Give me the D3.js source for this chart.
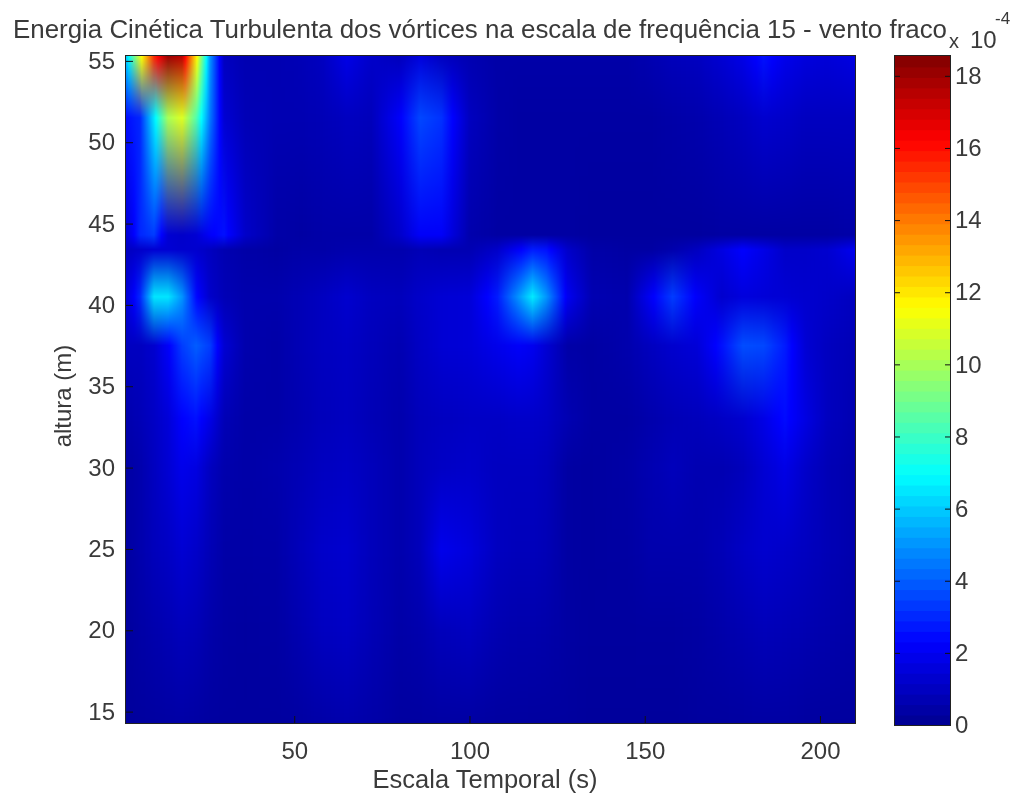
<!DOCTYPE html>
<html lang="pt">
  <head>
    <meta charset="UTF-8" />
    <title>Energia Cinética Turbulenta</title>
    <style>
      html, body { margin: 0; padding: 0; background: #fff; }
      #chart { position: relative; width: 1015px; height: 799px; overflow: hidden; }
      #chart canvas, #chart svg { position: absolute; left: 0; top: 0; }
      text { font-family: "Liberation Sans", Arial, sans-serif; fill: #3a3a3a; }
    </style>
    <script src="https://d3js.org/d3.v7.min.js"></script>
  </head>
  <body>
    <div id="chart"></div>
    <script>
      // escala temporal (s) of each column of the grid
      const tempos = [2, 6, 10, 14, 18, 22, 26, 30, 36, 45, 52, 58, 65, 72, 80, 86, 92, 100, 108, 114, 118, 122, 128, 135, 145, 152, 158, 165, 172, 178, 184, 190, 196, 202, 210];

      // energy in units of 1e-4, one list per height
      const e553 = [6, 11, 15.5, 18, 17.5, 12, 5, 1, 0.7, 0.7, 0.8, 1, 1.8, 1.2, 0.9, 1.6, 1, 0.7, 0.5, 0.5, 0.5, 0.5, 0.5, 0.5, 0.5, 0.7, 0.9, 1, 1.4, 1.8, 2.6, 1.9, 1.6, 1.5, 1.7];
      const e515 = [2.5, 3, 6.5, 10, 11, 8.5, 4.5, 1.4, 0.8, 0.7, 0.7, 0.8, 1, 0.9, 2.2, 3.6, 3.2, 1, 0.5, 0.4, 0.4, 0.4, 0.4, 0.4, 0.4, 0.4, 0.5, 0.6, 0.8, 1, 1.3, 1.2, 1, 1, 1];
      const e443 = [1.4, 3, 3.4, 1.4, 1.2, 1.4, 2.2, 2.6, 1.2, 0.5, 0.4, 0.5, 0.5, 0.5, 1.2, 2.2, 2.2, 0.6, 0.4, 0.4, 0.4, 0.4, 0.4, 0.3, 0.3, 0.3, 0.3, 0.3, 0.4, 0.4, 0.4, 0.4, 0.4, 0.4, 0.5];
      const e434 = [1, 1.2, 1.4, 1.4, 1.3, 1.3, 1, 0.7, 0.5, 0.4, 0.5, 0.5, 0.6, 0.6, 0.6, 0.8, 0.7, 0.7, 1.2, 2.2, 2.8, 2.6, 1.2, 0.5, 0.4, 0.4, 0.6, 1, 1.7, 2.3, 1.8, 1.2, 1.2, 1.3, 2];
      const e405 = [1.4, 3, 6.5, 6.5, 5, 2.5, 1.2, 0.8, 0.6, 0.6, 0.8, 1, 1.3, 1, 0.9, 1.2, 1.4, 1.5, 2.8, 5, 6.6, 5, 2, 0.7, 0.6, 2.2, 3.4, 2.2, 1.3, 1.6, 1.5, 1.4, 1.3, 1.2, 1];
      const e375 = [1, 1, 1.3, 2.2, 3.4, 4, 3.4, 1.4, 0.6, 0.5, 0.8, 1, 1.1, 0.9, 0.7, 1.1, 1.4, 1.5, 1.9, 2.2, 2, 1.4, 0.5, 0.4, 0.6, 1, 1.3, 1.5, 2.6, 3.7, 3.6, 2.8, 1.4, 1, 0.8];
      const e330 = [0.6, 0.8, 1.1, 1.5, 2.3, 2.6, 1.8, 0.8, 0.5, 0.5, 0.7, 0.9, 1, 0.8, 0.6, 0.9, 1, 1.1, 1.1, 1.2, 1.2, 1.1, 0.7, 0.4, 0.4, 0.6, 0.8, 0.9, 1.1, 1.3, 1.8, 2.5, 1.7, 1, 0.7];
      const e300 = [0.4, 0.6, 1, 1.4, 1.9, 1.7, 1, 0.6, 0.5, 0.6, 0.8, 1, 1.1, 0.9, 0.6, 0.9, 1.1, 1.2, 1, 1, 1, 0.9, 0.4, 0.35, 0.45, 0.7, 0.9, 0.7, 0.7, 0.9, 1.4, 1.8, 1.2, 0.8, 0.6];
      const e250 = [0.35, 0.6, 0.9, 1.1, 1.4, 1.2, 0.8, 0.5, 0.45, 0.5, 0.9, 1.2, 1.3, 0.9, 0.6, 0.9, 1.9, 1.6, 1, 0.9, 0.9, 0.8, 0.4, 0.35, 0.4, 0.6, 0.6, 0.6, 0.8, 1.1, 1.3, 1.2, 1, 0.8, 0.6];
      const e200 = [0.3, 0.45, 0.6, 0.75, 0.9, 0.8, 0.55, 0.4, 0.35, 0.4, 0.7, 1, 1.1, 0.8, 0.5, 0.6, 0.9, 1, 0.7, 0.6, 0.6, 0.55, 0.4, 0.3, 0.3, 0.35, 0.35, 0.4, 0.55, 0.7, 0.85, 0.8, 0.7, 0.6, 0.5];
      const e143 = [0.25, 0.3, 0.35, 0.4, 0.45, 0.4, 0.35, 0.3, 0.3, 0.3, 0.4, 0.5, 0.6, 0.5, 0.35, 0.35, 0.4, 0.4, 0.35, 0.35, 0.3, 0.3, 0.3, 0.25, 0.25, 0.25, 0.25, 0.3, 0.3, 0.35, 0.4, 0.4, 0.35, 0.3, 0.3];

      const alturas = [14.3, 20, 25, 30, 33, 37.5, 40.5, 43.4, 44.3, 51.5, 55.3];
      const energia = [e143, e200, e250, e300, e330, e375, e405, e434, e443, e515, e553];

      const xTicks = [50, 100, 150, 200];
      const yTicks = [15, 20, 25, 30, 35, 40, 45, 50, 55];
      const cTicks = [0, 2, 4, 6, 8, 10, 12, 14, 16, 18];
      const cMax = 18.55;

      const titulo = "Energia Cinética Turbulenta dos vórtices na escala de frequência 15 - vento fraco";

      const plot = { left: 126, right: 855, top: 56, bottom: 723 };
      const bar = { left: 895, right: 950, top: 56, bottom: 725 };

      const x = d3.scaleLinear().domain([2, 210]).range([plot.left, plot.right]);
      const y = d3.scaleLinear().domain([14.3, 55.3]).range([plot.bottom, plot.top]);
      const cY = d3.scaleLinear().domain([0, cMax]).range([bar.bottom, bar.top]);

      // matlab jet
      const jet = d3
        .scaleLinear()
        .domain([0, 0.125, 0.375, 0.625, 0.875, 1])
        .range(["#000090", "#0000ff", "#00ffff", "#ffff00", "#ff0000", "#800000"])
        .clamp(true);

      const lut = d3.range(1024).map((i) => d3.rgb(jet(i / 1023)));
      const lutAt = (v) => lut[Math.round(Math.min(1, v / cMax) * 1023)];

      const chart = d3.select("#chart");

      // heatmap: along time the value goes through the colormap, between
      // heights the colours themselves are mixed, as in the original picture
      const canvas = chart.append("canvas").attr("width", 1015).attr("height", 799);
      const ctx = canvas.node().getContext("2d");
      const w = plot.right - plot.left;
      const h = plot.bottom - plot.top;
      const img = ctx.createImageData(w, h);

      const colRows = energia.map((row) => {
        const vals = d3.scaleLinear().domain(tempos).range(row);
        return d3.range(w).map((i) => lutAt(vals(x.invert(plot.left + i + 0.5))));
      });

      for (let j = 0; j < h; j++) {
        const alt = y.invert(plot.top + j + 0.5);
        const k = Math.max(1, Math.min(alturas.length - 1, d3.bisectLeft(alturas, alt)));
        const f = (alt - alturas[k - 1]) / (alturas[k] - alturas[k - 1]);
        for (let i = 0; i < w; i++) {
          const a = colRows[k - 1][i];
          const b = colRows[k][i];
          const p = (j * w + i) * 4;
          img.data[p] = a.r + (b.r - a.r) * f;
          img.data[p + 1] = a.g + (b.g - a.g) * f;
          img.data[p + 2] = a.b + (b.b - a.b) * f;
          img.data[p + 3] = 255;
        }
      }
      ctx.putImageData(img, plot.left, plot.top);

      // colorbar, 64 levels
      const barW = bar.right - bar.left;
      const levels = d3.range(64);
      levels.forEach((l) => {
        const v0 = (l / 64) * cMax;
        const v1 = ((l + 1) / 64) * cMax;
        ctx.fillStyle = jet((l + 0.5) / 64);
        ctx.fillRect(bar.left, cY(v1), barW, cY(v0) - cY(v1) + 1);
      });

      const svg = chart.append("svg").attr("width", 1015).attr("height", 799);

      function styleAxis(g, size) {
        g.select(".domain").remove();
        g.selectAll("line").attr("stroke", "#111").attr("stroke-width", 1);
        g.selectAll("text").attr("font-size", size).style("fill", "#3a3a3a");
      }

      svg
        .append("g")
        .attr("transform", `translate(0,${plot.bottom})`)
        .call(d3.axisBottom(x).tickValues(xTicks).tickSize(-7).tickPadding(19))
        .call(styleAxis, 24);

      svg
        .append("g")
        .attr("transform", `translate(${plot.left},0)`)
        .call(d3.axisLeft(y).tickValues(yTicks).tickSize(-7).tickPadding(11))
        .call(styleAxis, 24);

      svg
        .append("g")
        .attr("transform", `translate(${bar.right},0)`)
        .call(d3.axisRight(cY).tickValues(cTicks).tickSize(-5).tickPadding(5))
        .call(styleAxis, 24);

      svg
        .append("g")
        .attr("transform", `translate(${bar.left},0)`)
        .call(d3.axisLeft(cY).tickValues(cTicks).tickSize(-5).tickFormat(""))
        .call(styleAxis, 24);

      svg
        .append("rect")
        .attr("x", plot.left - 0.5)
        .attr("y", plot.top - 0.5)
        .attr("width", w + 1)
        .attr("height", h + 1)
        .attr("fill", "none")
        .attr("stroke", "#222");

      svg
        .append("rect")
        .attr("x", bar.left - 0.5)
        .attr("y", bar.top - 0.5)
        .attr("width", barW + 1)
        .attr("height", bar.bottom - bar.top + 1)
        .attr("fill", "none")
        .attr("stroke", "#222");

      svg
        .append("text")
        .attr("x", 480)
        .attr("y", 38)
        .attr("text-anchor", "middle")
        .attr("font-size", 25.9)
        .text(titulo);

      svg
        .append("text")
        .attr("x", 485)
        .attr("y", 788)
        .attr("text-anchor", "middle")
        .attr("font-size", 25.5)
        .text("Escala Temporal (s)");

      svg
        .append("text")
        .attr("transform", "translate(71,396) rotate(-90)")
        .attr("text-anchor", "middle")
        .attr("font-size", 24)
        .text("altura (m)");

      // colorbar exponent
      svg.append("text").attr("x", 949).attr("y", 48).attr("font-size", 20).text("x");
      svg.append("text").attr("x", 970).attr("y", 48).attr("font-size", 24).text("10");
      svg.append("text").attr("x", 995).attr("y", 24).attr("font-size", 17).text("-4");
    </script>
  </body>
</html>
